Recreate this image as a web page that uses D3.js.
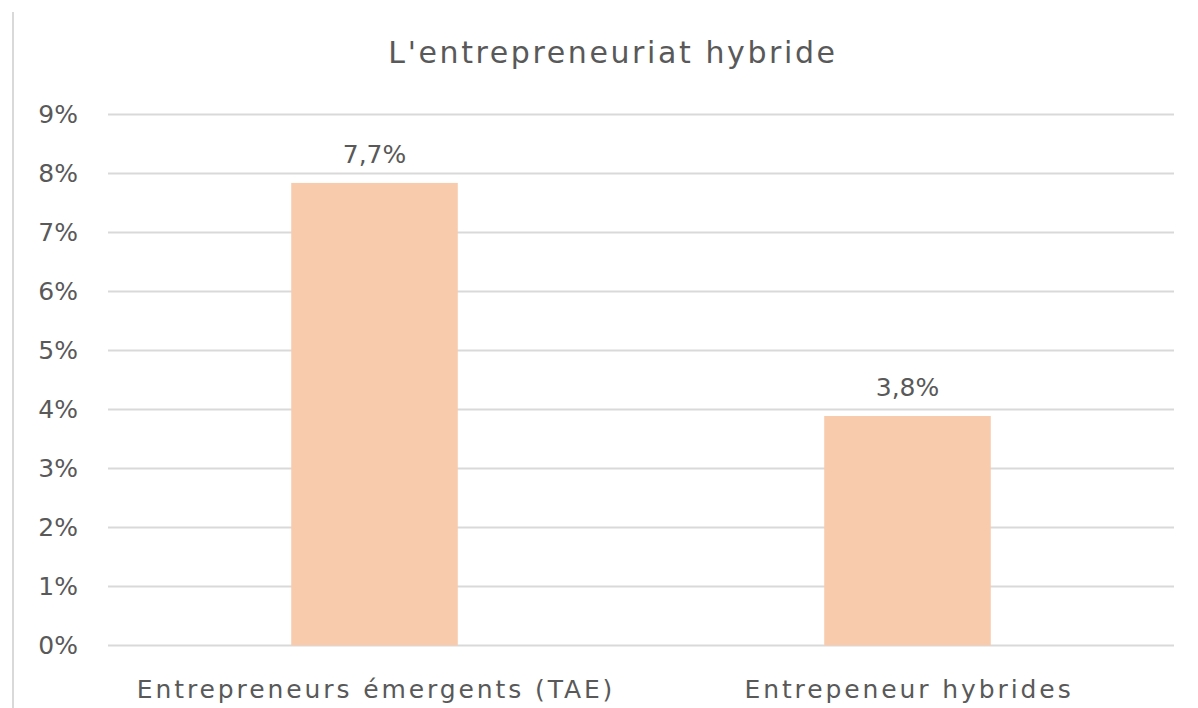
<!DOCTYPE html>
<html>
<head>
<meta charset="utf-8">
<script src="https://cdn.jsdelivr.net/npm/d3@7/dist/d3.min.js"></script>
<style>
  body { margin: 0; background: #fff; }
  text { font-family: "DejaVu Sans", sans-serif; fill: #595959; }
</style>
</head>
<body>
<svg id="chart" width="1198" height="708"></svg>
<script>
"use strict";

var categories = ["Entrepreneurs émergents (TAE)", "Entrepeneur hybrides"];
var values = [7.84, 3.89];
var valueLabels = ["7,7%", "3,8%"];
var yTicks = [0, 1, 2, 3, 4, 5, 6, 7, 8, 9];
var title = "L'entrepreneuriat hybride";

var svg = d3.select("#chart");
var plot = { left: 108, right: 1174, top: 114.5, bottom: 645.5 };

// left border of chart area
svg.append("line")
  .attr("x1", 13).attr("x2", 13)
  .attr("y1", 12).attr("y2", 708)
  .attr("stroke", "#d9d9d9")
  .attr("stroke-width", 2);

var x = d3.scaleBand()
  .domain(categories)
  .range([plot.left, plot.right])
  .paddingInner(0.6875)
  .paddingOuter(0.34375);

var y = d3.scaleLinear()
  .domain([0, 9])
  .range([plot.bottom, plot.top]);

// gridlines
svg.selectAll(".grid").data(yTicks)
  .enter()
  .append("line")
  .attr("class", "grid")
  .attr("x1", plot.left)
  .attr("x2", plot.right)
  .attr("y1", function(d) { return y(d); })
  .attr("y2", function(d) { return y(d); })
  .attr("stroke", "#d9d9d9")
  .attr("stroke-width", 2);

// y axis labels
var yAxis = d3.axisLeft(y)
  .tickValues(yTicks)
  .tickSize(0)
  .tickPadding(0)
  .tickFormat(function(d) { return d + "%"; });

var yg = svg.append("g")
  .attr("transform", "translate(78,0)")
  .call(yAxis);
yg.select(".domain").remove();
yg.selectAll("text")
  .attr("font-size", 25)
  .style("font-family", "DejaVu Sans, sans-serif")
  .attr("fill", "#595959");

// bars
svg.selectAll(".bar").data(values)
  .enter()
  .append("rect")
  .attr("class", "bar")
  .attr("x", function(d, i) { return x(categories[i]); })
  .attr("y", function(d) { return y(d); })
  .attr("width", x.bandwidth())
  .attr("height", function(d) { return y(0) - y(d); })
  .attr("fill", "#f8cbad");

// value labels
svg.selectAll(".vlabel").data(values)
  .enter()
  .append("text")
  .attr("class", "vlabel")
  .attr("x", function(d, i) { return x(categories[i]) + x.bandwidth() / 2; })
  .attr("y", function(d) { return y(d) - 20; })
  .attr("text-anchor", "middle")
  .attr("font-size", 25)
  .text(function(d, i) { return valueLabels[i]; });

// x axis labels
var xAxis = d3.axisBottom(x).tickSize(0).tickPadding(0);
var xg = svg.append("g")
  .attr("transform", "translate(0," + plot.bottom + ")")
  .call(xAxis);
xg.select(".domain").remove();
xg.selectAll("text")
  .attr("dy", 0)
  .attr("y", 52)
  .attr("x", 1.5)
  .attr("font-size", 25)
  .attr("letter-spacing", 2.9)
  .style("font-family", "DejaVu Sans, sans-serif")
  .attr("fill", "#595959");

// title
svg.append("text")
  .attr("x", 613)
  .attr("y", 63)
  .attr("text-anchor", "middle")
  .attr("font-size", 30)
  .attr("letter-spacing", 2.6)
  .text(title);
</script>
</body>
</html>
